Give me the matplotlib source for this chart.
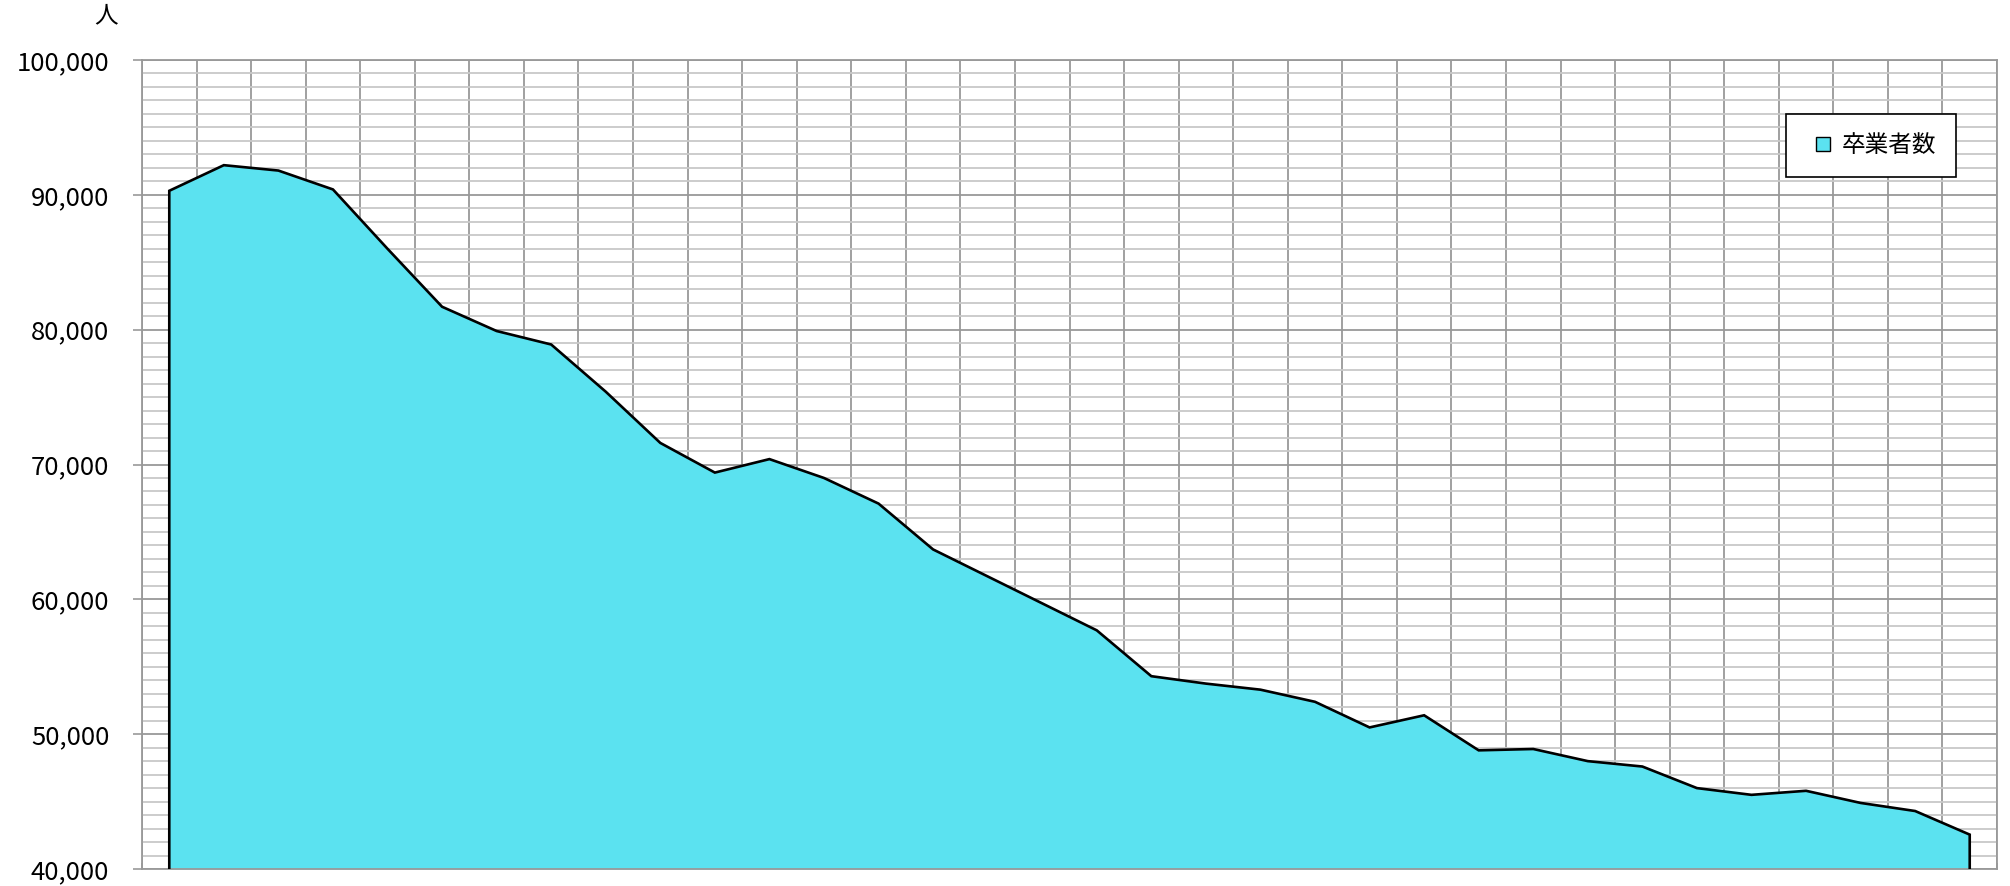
import matplotlib
matplotlib.use("Agg")
import matplotlib.pyplot as plt
from matplotlib.ticker import MultipleLocator, FuncFormatter
from matplotlib.lines import Line2D

# Font with CJK glyphs first, DejaVu as fallback.
plt.rcParams["font.family"] = ["Noto Sans CJK JP", "DejaVu Sans"]

# Graduates per year.
series_name = "卒業者数"
unit_label = "人"
graduates = [
    90300, 92200, 91800, 90400, 86000, 81700, 79900, 78900, 75400, 71600,
    69400, 70400, 69000, 67100, 63700, 61700, 59700, 57700, 54300, 53750,
    53300, 52400, 50500, 51400, 48800, 48900, 48000, 47600, 46000, 45500,
    45800, 44900, 44300, 42550,
]
y_min, y_max = 40000, 100000

fill_color = "#5BE2F0"
grid_major = "#999999"
grid_minor = "#C8C8C8"

n = len(graduates)
x = [i + 0.5 for i in range(n)]

fig = plt.figure(figsize=(20.10, 8.86), dpi=100)
ax = fig.add_axes([142 / 2010, 1 - 869 / 886, (1997 - 142) / 2010, (869 - 60) / 886])

# Area fill, then the outline (top edge and both vertical sides).
ax.fill_between(x, y_min, graduates, color=fill_color, linewidth=0, zorder=2)
ax.plot([x[0]] + x + [x[-1]], [y_min] + graduates + [y_min],
        color="black", linewidth=1.9, zorder=3, solid_joinstyle="miter")

ax.set_xlim(0, n)
ax.set_ylim(y_min, y_max)

# Y axis: major every 10,000 and light minor grid every 1,000.
ax.yaxis.set_major_locator(MultipleLocator(10000))
ax.yaxis.set_minor_locator(MultipleLocator(1000))
ax.yaxis.set_major_formatter(FuncFormatter(lambda v, p: f"{v:,.0f}"))
ax.tick_params(axis="y", which="major", direction="out", length=6.5, width=1.2,
               color=grid_major, labelsize=18.5, pad=17)
ax.tick_params(axis="y", which="minor", length=0)

# X axis: category boundaries, no labels.
ax.xaxis.set_major_locator(MultipleLocator(1))
ax.tick_params(axis="x", which="major", direction="in", length=4.5, width=1.2,
               color=grid_major, labelbottom=False)

ax.set_axisbelow(True)
ax.grid(axis="y", which="minor", color=grid_minor, linewidth=1.3, zorder=0)
ax.grid(axis="y", which="major", color=grid_major, linewidth=1.3, zorder=1)
ax.grid(axis="x", which="major", color=grid_major, linewidth=1.3, zorder=1)

for side in ax.spines.values():
    side.set_color(grid_major)
    side.set_linewidth(1.3)

fig.text(106 / 2010, 1 - 16 / 886, unit_label, ha="center", va="center", fontsize=17)

handle = Line2D([], [], linestyle="none", marker="s", markersize=9.5,
                markerfacecolor=fill_color, markeredgecolor="black", markeredgewidth=1.0)
leg = ax.legend([handle], [series_name], loc="upper left",
                bbox_to_anchor=(1786 / 2010, 1 - 114 / 886),
                bbox_transform=fig.transFigure, borderaxespad=0,
                fontsize=17, frameon=True, fancybox=False,
                handlelength=1.4, handletextpad=0.1, borderpad=0.85)
leg.get_frame().set_edgecolor("black")
leg.get_frame().set_linewidth(1.2)
leg.get_frame().set_alpha(1)

fig.savefig("out.png", dpi=100)
